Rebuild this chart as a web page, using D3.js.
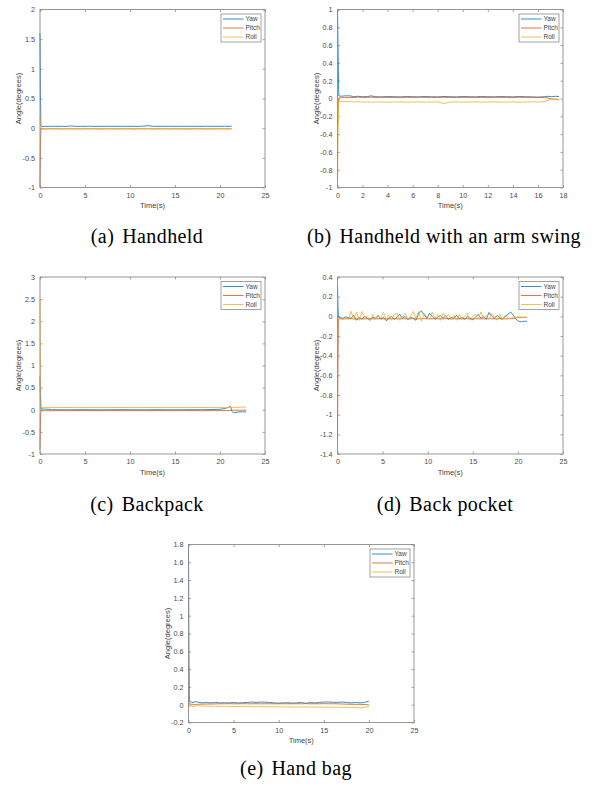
<!DOCTYPE html>
<html>
<head>
<meta charset="utf-8">
<script src="https://cdn.jsdelivr.net/npm/d3@7"></script>
<style>
  body { margin: 0; background: #fff; }
  svg { display: block; }
  .tick text { font-family: "Liberation Sans", Arial, sans-serif; font-size: 7.2px; fill: #4a4a4a; }
  .tick line { stroke: #8c8c8c; stroke-width: 0.8; }
</style>
</head>
<body>
<svg id="fig" width="598" height="787"></svg>
<script>
'use strict';

// series names + legend
var seriesNames = ["Yaw", "Pitch", "Roll"];
var seriesColors = ["#0072BD", "#D95319", "#EDB120"];

// (a) Handheld
var tA = [0, 0.05, 0.1, 0.2, 0.5, 1, 1.5, 2, 2.5, 3,
	3.4, 4, 4.5, 5, 5.5, 6, 6.5, 7, 7.5, 8,
	8.5, 9, 9.5, 10, 10.5, 11, 11.5, 12, 12.5, 13,
	13.5, 14, 14.5, 15, 15.5, 16, 16.5, 17, 17.5, 18,
	18.5, 19, 19.5, 20, 20.5, 21, 21.3];
var yawA = [1.6, 0.6, 0.04, 0.03, 0.03, 0.03, 0.032, 0.03, 0.031, 0.03,
	0.038, 0.03, 0.032, 0.03, 0.034, 0.03, 0.031, 0.03, 0.033, 0.03,
	0.031, 0.03, 0.032, 0.03, 0.031, 0.03, 0.035, 0.042, 0.032, 0.03,
	0.031, 0.03, 0.033, 0.03, 0.031, 0.03, 0.032, 0.03, 0.031, 0.03,
	0.033, 0.03, 0.031, 0.03, 0.032, 0.03, 0.035];
var pitchA = [-1.0, -0.3, -0.01, -0.012, -0.015, -0.01, -0.014, -0.01, -0.015, -0.01,
	-0.014, -0.011, -0.015, -0.01, -0.014, -0.01, -0.015, -0.011, -0.014, -0.01,
	-0.015, -0.01, -0.014, -0.011, -0.015, -0.01, -0.014, -0.01, -0.015, -0.011,
	-0.014, -0.01, -0.015, -0.01, -0.014, -0.011, -0.015, -0.01, -0.014, -0.01,
	-0.015, -0.011, -0.014, -0.01, -0.015, -0.01, -0.012];
var rollA = [0.2, 0.1, -0.005, 0.0, -0.005, -0.008, -0.004, -0.009, -0.005, -0.008,
	-0.003, -0.008, -0.005, -0.009, -0.004, -0.008, -0.005, -0.009, -0.004, -0.008,
	-0.005, -0.009, -0.004, -0.008, -0.005, -0.009, -0.004, -0.003, -0.005, -0.008,
	-0.004, -0.009, -0.005, -0.008, -0.004, -0.009, -0.005, -0.008, -0.004, -0.009,
	-0.005, -0.008, -0.004, -0.009, -0.005, -0.008, -0.006];
var xTicksA = [0, 5, 10, 15, 20, 25];
var yTicksA = [-1, -0.5, 0, 0.5, 1, 1.5, 2];

// (b) Handheld with an arm swing
var tB = [0, 0.05, 0.1, 0.3, 0.6, 1, 1.3, 1.6, 2, 2.4,
	2.7, 3, 3.5, 4, 4.5, 5, 5.5, 6, 6.5, 7,
	7.5, 8, 8.5, 9, 9.5, 10, 10.5, 11, 11.5, 12,
	12.5, 13, 13.5, 14, 14.5, 15, 15.5, 16, 16.5, 16.8,
	17.1, 17.4, 17.7];
var yawB = [1.0, 0.5, 0.03, 0.025, 0.03, 0.03, 0.02, 0.025, 0.02, 0.022,
	0.03, 0.02, 0.018, 0.022, 0.02, 0.018, 0.022, 0.02, 0.018, 0.022,
	0.02, 0.018, 0.022, 0.02, 0.018, 0.022, 0.02, 0.018, 0.022, 0.02,
	0.018, 0.022, 0.02, 0.018, 0.022, 0.02, 0.018, 0.015, 0.02, 0.025,
	0.02, 0.025, 0.022];
var pitchB = [-0.3, -0.1, 0.005, 0.01, 0.01, 0.012, 0.012, 0.015, 0.012, 0.013,
	0.015, 0.012, 0.014, 0.012, 0.013, 0.012, 0.014, 0.012, 0.015, 0.012,
	0.013, 0.012, 0.014, 0.012, 0.013, 0.012, 0.014, 0.012, 0.013, 0.012,
	0.014, 0.012, 0.013, 0.012, 0.014, 0.012, 0.013, 0.012, 0.01, 0.005,
	-0.005, -0.01, -0.015];
var rollB = [-0.93, -0.4, -0.03, -0.032, -0.035, -0.036, -0.038, -0.035, -0.04, -0.038,
	-0.042, -0.04, -0.038, -0.042, -0.04, -0.038, -0.042, -0.04, -0.038, -0.042,
	-0.04, -0.038, -0.055, -0.04, -0.038, -0.042, -0.04, -0.038, -0.042, -0.04,
	-0.038, -0.042, -0.04, -0.038, -0.042, -0.04, -0.038, -0.04, -0.035, -0.02,
	-0.01, -0.005, -0.01];
var xTicksB = [0, 2, 4, 6, 8, 10, 12, 14, 16, 18];
var yTicksB = [-1, -0.8, -0.6, -0.4, -0.2, 0, 0.2, 0.4, 0.6, 0.8, 1];

// (c) Backpack
var tC = [0, 0.05, 0.1, 0.5, 1, 1.3, 2, 3, 4, 5,
	6, 7, 8, 9, 10, 11, 12, 13, 14, 15,
	16, 17, 18, 19, 20, 20.6, 21, 21.2, 21.3, 21.5,
	22, 22.5, 22.9];
var yawC = [0.75, 0.3, 0.02, 0.015, 0.01, 0.0, 0.0, -0.002, 0.0, 0.002,
	0.0, -0.002, 0.0, 0.002, 0.0, -0.002, 0.0, 0.002, 0.0, -0.002,
	0.0, 0.002, 0.0, 0.005, 0.01, 0.03, 0.06, 0.07, -0.03, -0.07,
	-0.05, -0.045, -0.05];
var pitchC = [-0.9, -0.3, -0.02, -0.02, -0.022, -0.02, -0.02, -0.021, -0.02, -0.02,
	-0.021, -0.02, -0.02, -0.021, -0.02, -0.02, -0.021, -0.02, -0.02, -0.021,
	-0.02, -0.02, -0.021, -0.02, -0.02, -0.018, -0.015, -0.015, -0.012, -0.01,
	-0.01, -0.01, -0.01];
var rollC = [2.5, 1.0, 0.06, 0.05, 0.05, 0.05, 0.05, 0.051, 0.05, 0.05,
	0.052, 0.05, 0.05, 0.051, 0.05, 0.05, 0.051, 0.05, 0.05, 0.051,
	0.05, 0.05, 0.051, 0.05, 0.05, 0.05, 0.05, 0.05, 0.045, 0.05,
	0.055, 0.058, 0.06];
var xTicksC = [0, 5, 10, 15, 20, 25];
var yTicksC = [-1, -0.5, 0, 0.5, 1, 1.5, 2, 2.5, 3];

// (d) Back pocket
var tD = [0, 0.05, 0.1, 0.3, 0.6, 0.9, 1.2, 1.5, 1.8, 2.1,
	2.4, 2.7, 3.0, 3.3, 3.6, 3.9, 4.2, 4.5, 4.8, 5.1,
	5.4, 5.7, 6.0, 6.3, 6.6, 6.9, 7.2, 7.5, 7.8, 8.1,
	8.4, 8.7, 9.0, 9.3, 9.6, 9.9, 10.2, 10.5, 10.8, 11.1,
	11.4, 11.7, 12.0, 12.3, 12.6, 12.9, 13.2, 13.5, 13.8, 14.1,
	14.4, 14.7, 15.0, 15.3, 15.6, 15.9, 16.2, 16.5, 16.8, 17.1,
	17.4, 17.7, 18.0, 18.3, 18.6, 18.9, 19.2, 19.5, 19.8, 20.1,
	20.4, 20.7, 21.0];
var yawD = [0.32, 0.1, -0.01, -0.01, -0.02, -0.005, -0.015, -0.02, 0.01, -0.04,
	-0.01, -0.03, 0.0, -0.02, -0.04, -0.01, -0.02, 0.01, -0.03, -0.01,
	-0.045, -0.02, 0.0, -0.03, -0.01, 0.02, -0.02, 0.0, -0.035, -0.01,
	-0.02, -0.04, 0.03, 0.055, 0.02, -0.02, 0.03, 0.0, -0.03, -0.01,
	0.01, -0.02, 0.005, -0.03, -0.01, -0.02, 0.01, -0.025, -0.01, -0.03,
	0.0, -0.02, -0.035, -0.01, 0.02, -0.02, 0.0, -0.03, 0.04, 0.0,
	-0.02, 0.01, -0.015, -0.03, 0.0, 0.02, 0.045, 0.01, -0.03, -0.05,
	-0.055, -0.05, -0.05];
var pitchD = [-1.25, -0.5, -0.03, -0.025, -0.026, -0.025, -0.024, -0.025, -0.026, -0.025,
	-0.024, -0.025, -0.026, -0.025, -0.024, -0.025, -0.026, -0.025, -0.024, -0.025,
	-0.026, -0.025, -0.024, -0.025, -0.026, -0.025, -0.024, -0.025, -0.026, -0.025,
	-0.024, -0.025, -0.026, -0.025, -0.024, -0.025, -0.026, -0.025, -0.024, -0.025,
	-0.026, -0.025, -0.024, -0.025, -0.026, -0.025, -0.024, -0.025, -0.026, -0.025,
	-0.024, -0.025, -0.026, -0.025, -0.024, -0.025, -0.026, -0.025, -0.024, -0.025,
	-0.026, -0.025, -0.024, -0.025, -0.026, -0.025, -0.024, -0.025, -0.015, -0.01,
	-0.01, -0.01, -0.01];
var rollD = [-0.1, -0.05, -0.02, -0.02, -0.03, -0.02, -0.03, 0.05, -0.03, 0.04,
	-0.04, 0.05, -0.02, 0.0, -0.04, 0.02, -0.03, 0.0, -0.02, 0.04,
	-0.03, 0.01, -0.04, 0.02, 0.03, -0.04, 0.0, 0.03, -0.03, 0.0,
	0.05, -0.02, 0.05, -0.05, 0.03, 0.0, -0.03, 0.04, -0.02, 0.02,
	-0.04, 0.03, -0.01, 0.02, -0.03, 0.01, -0.04, 0.02, -0.02, 0.0,
	0.03, -0.04, 0.0, 0.02, -0.03, 0.045, -0.02, 0.01, -0.03, 0.03,
	0.0, -0.04, 0.02, -0.03, 0.01, -0.02, -0.02, -0.01, -0.01, -0.005,
	-0.01, -0.01, -0.01];
var xTicksD = [0, 5, 10, 15, 20, 25];
var yTicksD = [-1.4, -1.2, -1, -0.8, -0.6, -0.4, -0.2, 0, 0.2, 0.4];

// (e) Hand bag
var tE = [0, 0.05, 0.1, 0.3, 0.5, 0.8, 1, 1.5, 2, 2.5,
	3, 3.5, 4, 4.5, 5, 5.5, 6, 6.5, 7, 7.5,
	8, 8.5, 9, 9.5, 10, 10.5, 11, 11.5, 12, 12.5,
	13, 13.5, 14, 14.5, 15, 15.5, 16, 16.5, 17, 17.5,
	18, 18.5, 19, 19.5, 20];
var yawE = [1.78, 0.6, 0.04, 0.03, 0.025, 0.035, 0.03, 0.02, 0.025, 0.02,
	0.025, 0.02, 0.022, 0.02, 0.025, 0.02, 0.022, 0.025, 0.03, 0.025,
	0.03, 0.028, 0.025, 0.02, 0.018, 0.02, 0.022, 0.018, 0.02, 0.025,
	0.015, 0.025, 0.02, 0.025, 0.03, 0.03, 0.028, 0.025, 0.03, 0.025,
	0.02, 0.025, 0.02, 0.025, 0.04];
var pitchE = [0.08, 0.03, 0.01, 0.005, 0.005, 0.0, 0.005, 0.006, 0.008, 0.008,
	0.009, 0.01, 0.01, 0.011, 0.01, 0.01, 0.011, 0.01, 0.01, 0.011,
	0.01, 0.01, 0.011, 0.01, 0.01, 0.011, 0.01, 0.01, 0.011, 0.01,
	0.012, 0.01, 0.011, 0.01, 0.012, 0.01, 0.011, 0.01, 0.008, 0.006,
	0.005, 0.004, 0.003, 0.002, 0.0];
var rollE = [0.08, 0.0, -0.02, -0.01, -0.02, -0.015, -0.01, -0.015, -0.016, -0.017,
	-0.018, -0.018, -0.019, -0.02, -0.02, -0.021, -0.021, -0.022, -0.022, -0.022,
	-0.023, -0.023, -0.024, -0.024, -0.024, -0.025, -0.025, -0.025, -0.026, -0.026,
	-0.026, -0.027, -0.027, -0.027, -0.028, -0.028, -0.028, -0.029, -0.029, -0.03,
	-0.03, -0.032, -0.035, -0.03, -0.02];
var xTicksE = [0, 5, 10, 15, 20, 25];
var yTicksE = [-0.2, 0, 0.2, 0.4, 0.6, 0.8, 1, 1.2, 1.4, 1.6, 1.8];

var captions = [["(a)", "Handheld"], ["(b)", "Handheld with an arm swing"],
	["(c)", "Backpack"], ["(d)", "Back pocket"], ["(e)", "Hand bag"]];

var panelData = [
	{ t: tA, s: [yawA, pitchA, rollA], xt: xTicksA, yt: yTicksA },
	{ t: tB, s: [yawB, pitchB, rollB], xt: xTicksB, yt: yTicksB },
	{ t: tC, s: [yawC, pitchC, rollC], xt: xTicksC, yt: yTicksC },
	{ t: tD, s: [yawD, pitchD, rollD], xt: xTicksD, yt: yTicksD },
	{ t: tE, s: [yawE, pitchE, rollE], xt: xTicksE, yt: yTicksE }
];

// where each axes box sits on the page
var layout = [
	{ x: 40, y: 9.5, w: 225, h: 178, cx: 147, cy: 243 },
	{ x: 337.5, y: 9.5, w: 225.5, h: 178, cx: 444, cy: 243 },
	{ x: 40, y: 277, w: 225, h: 177, cx: 147, cy: 511 },
	{ x: 337.5, y: 277, w: 225.5, h: 177, cx: 445, cy: 511 },
	{ x: 188.5, y: 544.5, w: 225.5, h: 178, cx: 296, cy: 775 }
];

var svg = d3.select("#fig");
svg.append("rect").attr("width", 598).attr("height", 787).attr("fill", "#fff");

panelData.forEach(function(p, i) {
	var L = layout[i];
	var g = svg.append("g").attr("transform", "translate(" + L.x + "," + L.y + ")");

	var x = d3.scaleLinear().domain(d3.extent(p.xt)).range([0, L.w]);
	var y = d3.scaleLinear().domain(d3.extent(p.yt)).range([L.h, 0]);
	var fmt = function(d) { return String(d); };

	// ticks point inward on all four sides
	g.append("g").attr("transform", "translate(0," + L.h + ")")
		.call(d3.axisBottom(x).tickValues(p.xt).tickFormat(fmt).tickSizeInner(-2.5).tickSizeOuter(0).tickPadding(5));
	g.append("g")
		.call(d3.axisTop(x).tickValues(p.xt).tickFormat("").tickSizeInner(-2.5).tickSizeOuter(0));
	g.append("g")
		.call(d3.axisLeft(y).tickValues(p.yt).tickFormat(fmt).tickSizeInner(-2.5).tickSizeOuter(0).tickPadding(5));
	g.append("g").attr("transform", "translate(" + L.w + ",0)")
		.call(d3.axisRight(y).tickValues(p.yt).tickFormat("").tickSizeInner(-2.5).tickSizeOuter(0));
	g.selectAll(".domain").remove();

	var line = d3.line()
		.x(function(d) { return x(d[0]); })
		.y(function(d) { return y(d[1]); });

	p.s.forEach(function(vals, k) {
		var pts = p.t.map(function(tt, j) { return [tt, vals[j]]; })
			.filter(function(d) { return d[1] !== undefined; });
		g.append("path")
			.attr("d", line(pts))
			.attr("fill", "none")
			.attr("stroke", seriesColors[k])
			.attr("stroke-width", 0.8)
			.attr("stroke-linejoin", "round");
	});

	g.append("rect")
		.attr("width", L.w).attr("height", L.h)
		.attr("fill", "none").attr("stroke", "#8c8c8c").attr("stroke-width", 0.9);

	// axis titles
	g.append("text")
		.attr("x", L.w / 2).attr("y", L.h + 20.5)
		.attr("text-anchor", "middle")
		.style("font-family", "Liberation Sans, Arial, sans-serif")
		.style("font-size", "7.5px").style("fill", "#444")
		.text("Time(s)");
	g.append("text")
		.attr("transform", "translate(-19," + (L.h / 2) + ") rotate(-90)")
		.attr("text-anchor", "middle")
		.style("font-family", "Liberation Sans, Arial, sans-serif")
		.style("font-size", "7.5px").style("fill", "#444")
		.text("Angle(degrees)");

	// legend
	var lg = g.append("g").attr("transform", "translate(" + (L.w - 44) + ",4.5)");
	lg.append("rect").attr("width", 40).attr("height", 28)
		.attr("fill", "#fff").attr("stroke", "#8c8c8c").attr("stroke-width", 0.8);
	seriesNames.forEach(function(name, k) {
		var yy = 5 + k * 9;
		lg.append("line").attr("x1", 2).attr("x2", 22.5).attr("y1", yy).attr("y2", yy)
			.attr("stroke", seriesColors[k]).attr("stroke-width", 0.8);
		lg.append("text").attr("x", 24.5).attr("y", yy + 2.3)
			.style("font-family", "Liberation Sans, Arial, sans-serif")
			.style("font-size", "6.5px").style("fill", "#444")
			.text(name);
	});

	// caption
	var cap = svg.append("text")
		.attr("x", L.cx).attr("y", L.cy)
		.attr("text-anchor", "middle")
		.style("font-family", "Liberation Serif, Times New Roman, serif")
		.style("font-size", "20px").style("letter-spacing", "0.4px").style("fill", "#000");
	cap.append("tspan").text(captions[i][0]);
	cap.append("tspan").attr("dx", 8).text(captions[i][1]);
});
</script>
</body>
</html>
